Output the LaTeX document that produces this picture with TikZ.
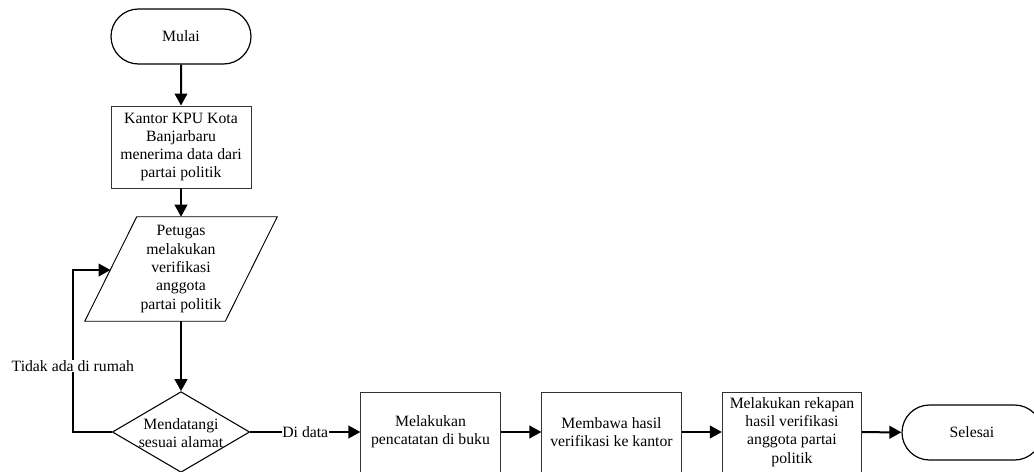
\documentclass[tikz,border=0pt]{standalone}
\usepackage{fontspec}
\setmainfont{Liberation Serif}
\usetikzlibrary{arrows.meta,shapes.geometric,shapes.misc,calc}
\begin{document}
\begin{tikzpicture}[x=0.75pt,y=-0.75pt,
  every node/.style={font=\fontsize{11.8}{13.7}\selectfont, align=center, inner sep=0pt},
  term/.style={rounded rectangle, draw, line width=0.9pt, minimum width=105pt, minimum height=41.25pt},
  proc/.style={rectangle, draw=black!80, line width=0.7pt, minimum width=104.5pt, minimum height=60pt},
  arr/.style={line width=1.5pt, -{Triangle[length=9pt,width=9.5pt]}},
  lbl/.style={fill=white, inner sep=0.5pt}]
\useasboundingbox (0,0) rectangle (1034,471);
\node[term] (mulai) at (181,36.5) {Mulai};
\node[proc, minimum width=105pt, minimum height=61.5pt] (kantor) at (181,147) {Kantor KPU Kota\\Banjarbaru\\menerima data dari\\partai politik};
\node[minimum width=105pt, minimum height=78pt] (para) at (181,269) {Petugas\\melakukan\\verifikasi\\anggota\\partai politik};
\draw[line width=0.7pt] ($(para.south west)+(-26,0)$) -- ($(para.north west)+(26,0)$) -- ($(para.north east)+(26,0)$) -- ($(para.south east)+(-26,0)$) -- cycle;
\coordinate (paraL) at (110.5,270);
\node[diamond, draw, line width=0.8pt, minimum width=103pt, minimum height=60.5pt, aspect=1.7] (dia) at (181,432) {};
\node at (181,433) {Mendatangi\\sesuai alamat};
\node[proc] (b1) at (430.5,432) {Melakukan\\pencatatan di buku};
\node[proc] (b2) at (611.5,432) {Membawa hasil\\verifikasi ke kantor};
\node[proc] (b3) at (792,432) {Melakukan rekapan\\hasil verifikasi\\anggota partai\\politik};
\node[term] (selesai) at (972,432.5) {Selesai};
\draw[arr] (mulai) -- (kantor);
\draw[arr] (kantor) -- (para.north);
\draw[arr] (para.south) -- (dia.north);
\draw[arr] (dia.west) -- ++(-39,0) |- node[lbl, pos=0.204]{Tidak ada di rumah} (paraL);
\draw[arr] (dia.east) -- node[lbl]{Di data} (b1.west);
\draw[arr] (b1) -- (b2);
\draw[arr] (b2) -- (b3);
\draw[arr] (b3) -- (selesai);
\end{tikzpicture}
\end{document}
